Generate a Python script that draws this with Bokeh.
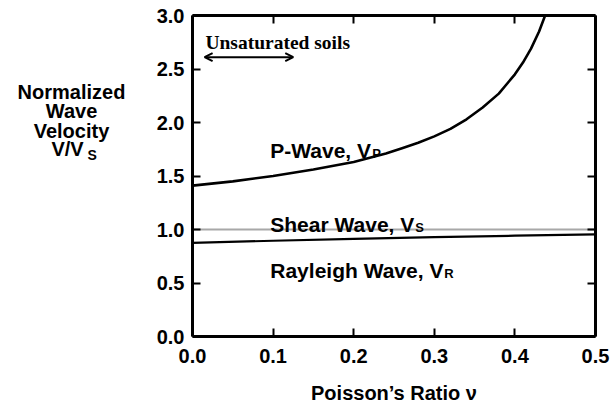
from bokeh.plotting import figure
from bokeh.layouts import row
from bokeh.models import (LinearAxis, FixedTicker, Label, Arrow, OpenHead,
                          Range1d, CustomJSTickFormatter)
from bokeh.embed import file_html
from bokeh.resources import INLINE

# Poisson's ratio and normalized velocities V/Vs
nu_p = [0.00, 0.05, 0.10, 0.15, 0.20, 0.22, 0.24, 0.26, 0.28, 0.30, 0.32,
        0.34, 0.36, 0.38, 0.39, 0.40, 0.41, 0.42, 0.43, 0.44]
v_p = [1.41, 1.45, 1.50, 1.56, 1.63, 1.67, 1.71, 1.76, 1.81, 1.87, 1.94,
       2.03, 2.14, 2.27, 2.36, 2.45, 2.56, 2.69, 2.85, 3.05]

nu_s = [0.0, 0.5]
v_s = [1.0, 1.0]

nu_r = [0.0, 0.1, 0.2, 0.3, 0.4, 0.5]
v_r = [0.875, 0.895, 0.912, 0.928, 0.942, 0.955]

# range of Poisson's ratio typical of unsaturated soils
unsat_nu = [0.015, 0.125]

x_ticks = [0.0, 0.1, 0.2, 0.3, 0.4, 0.5]
y_ticks = [0.0, 0.5, 1.0, 1.5, 2.0, 2.5, 3.0]

SANS = "Liberation Sans"
SERIF = "Liberation Serif"

# ---- main chart -------------------------------------------------------------
p = figure(width=466, height=406, output_backend="svg", toolbar_location=None,
           x_range=Range1d(0, 0.5), y_range=Range1d(0, 3.0),
           x_axis_location=None, y_axis_location=None,
           min_border_left=42, min_border_right=21,
           min_border_top=15, min_border_bottom=68)
p.grid.visible = False
p.outline_line_color = None
p.background_fill_color = "white"
p.border_fill_color = "white"

fmt = CustomJSTickFormatter(code="return tick.toFixed(1);")


def make_axis(ticks, show_labels, standoff):
    ax = LinearAxis(ticker=FixedTicker(ticks=ticks), formatter=fmt)
    ax.axis_line_width = 3
    ax.axis_line_color = "black"
    ax.major_tick_line_width = 2
    ax.major_tick_in = 8
    ax.major_tick_out = 0
    ax.minor_tick_line_color = None
    ax.major_label_standoff = standoff
    if show_labels:
        ax.major_label_text_font = SANS
        ax.major_label_text_font_style = "bold"
        ax.major_label_text_font_size = "20px"
        ax.major_label_text_color = "black"
    else:
        ax.major_label_text_font_size = "0px"
        ax.major_label_text_color = None
    return ax


xaxis = make_axis(x_ticks, True, 12)
xaxis.axis_label = "Poisson\u2019s Ratio \u03bd"
xaxis.axis_label_text_font = SANS
xaxis.axis_label_text_font_style = "bold"
xaxis.axis_label_text_font_size = "20px"
xaxis.axis_label_text_color = "black"
xaxis.axis_label_standoff = 16
p.add_layout(xaxis, "below")
p.add_layout(make_axis(y_ticks, True, 8), "left")
p.add_layout(make_axis(x_ticks, False, 0), "above")
p.add_layout(make_axis(y_ticks, False, 0), "right")

# curves
p.line(nu_s, v_s, line_color="#a8a8a8", line_width=2.2)
p.line(nu_r, v_r, line_color="black", line_width=2.2)
p.line(nu_p, v_p, line_color="black", line_width=2.6)


def text(fig, x, y, s, size="21px", font=SANS, align="left", xo=0, yo=0):
    fig.add_layout(Label(x=x, y=y, text=s, x_offset=xo, y_offset=yo,
                         text_font=font, text_font_style="bold",
                         text_font_size=size, text_color="black",
                         text_align=align, text_baseline="alphabetic"))


# curve names with subscripts
text(p, 0.0965, 1.736, "P-Wave, V")
text(p, 0.0965, 1.736, "P", size="13px", xo=102, yo=-3)
text(p, 0.0965, 1.05, "Shear Wave, V")
text(p, 0.0965, 1.05, "S", size="13px", xo=145, yo=-3)
text(p, 0.0965, 0.613, "Rayleigh Wave, V")
text(p, 0.0965, 0.613, "R", size="13px", xo=174, yo=-3)

# unsaturated soils range
text(p, 0.016, 2.75, "Unsaturated soils", size="19.5px", font=SERIF)
p.add_layout(Arrow(x_start=unsat_nu[0], y_start=2.61, x_end=unsat_nu[1], y_end=2.61,
                   line_color="black", line_width=2,
                   start=OpenHead(size=8, line_width=2, line_color="black"),
                   end=OpenHead(size=8, line_width=2, line_color="black")))

# ---- y axis title panel (stacked lines, top-down pixel space) ---------------
t = figure(width=150, height=406, output_backend="svg", toolbar_location=None,
           x_range=Range1d(0, 150), y_range=Range1d(406, 0),
           x_axis_location=None, y_axis_location=None,
           min_border=0, min_border_left=0, min_border_right=0,
           min_border_top=0, min_border_bottom=0)
t.grid.visible = False
t.outline_line_color = None
t.background_fill_color = "white"
t.border_fill_color = "white"

text(t, 71, 97, "Normalized", size="20px", align="center")
text(t, 71, 121, "Wave", size="20px", align="center")
text(t, 71, 146, "Velocity", size="20px", align="center")
text(t, 67, 169, "V/V", size="20px", align="center")
text(t, 67, 169, "S", size="14px", xo=20, yo=-6)

layout = row(t, p)
open("out.html", "w").write(file_html(layout, INLINE))
